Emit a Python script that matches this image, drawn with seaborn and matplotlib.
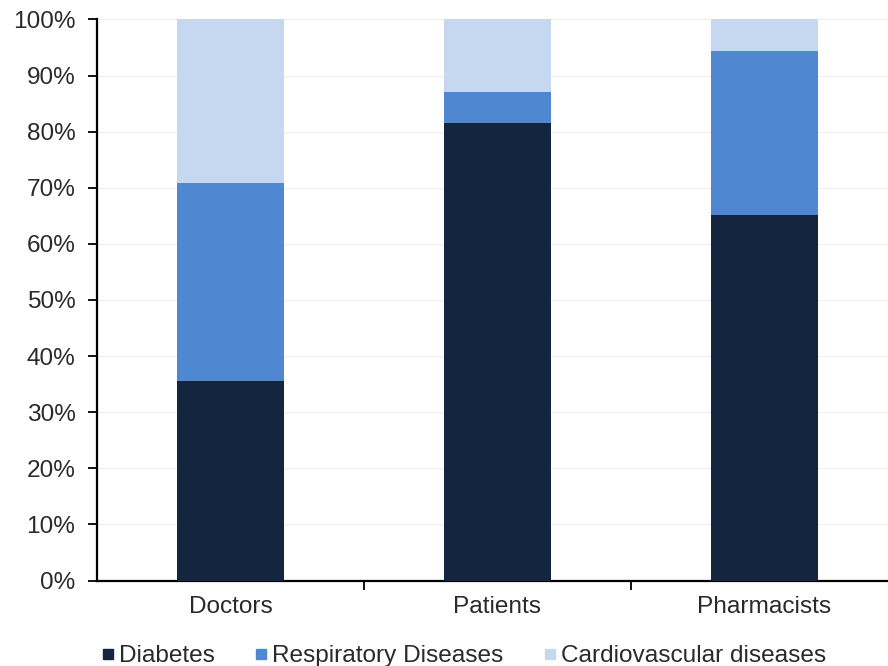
import matplotlib
matplotlib.use("Agg")
import matplotlib.pyplot as plt
import seaborn as sns
import pandas as pd
import numpy as np
from matplotlib.lines import Line2D
from matplotlib.ticker import FixedLocator, PercentFormatter

categories = ["Doctors", "Patients", "Pharmacists"]
diabetes = [35.5, 81.5, 65.2]
respiratory = [35.3, 5.6, 29.1]
cardiovascular = [29.2, 12.9, 5.7]
series_names = ["Diabetes", "Respiratory Diseases", "Cardiovascular diseases"]
colors = ["#13253f", "#4f88d0", "#c6d8ef"]

sns.set_theme(style="white")
plt.rcParams["font.family"] = ["Liberation Sans", "DejaVu Sans"]

d = np.array(diabetes)
r = np.array(respiratory)
c = np.array(cardiovascular)
df = pd.DataFrame({
    "cat": categories,
    "total": d + r + c,
    "dr": d + r,
    "d": d,
})

FS = 17.6
fig = plt.figure(figsize=(8.88, 6.66), dpi=100)
ax = fig.add_axes([97 / 888, (666 - 580.6) / 666, 1 - 97 / 888, (580.6 - 19.4) / 666])

for col, colr in zip(["total", "dr", "d"], colors[::-1]):
    sns.barplot(data=df, x="cat", y=col, color=colr, width=0.4, ax=ax,
                saturation=1, linewidth=0, zorder=3)

ax.set_ylim(0, 100)
ax.set_xlim(-0.5, 2.463)
ax.set_yticks(np.arange(0, 101, 10))
ax.yaxis.set_major_formatter(PercentFormatter(decimals=0))
ax.set_xlabel("")
ax.set_ylabel("")
ax.grid(axis="y", color="#efefef", linewidth=0.8, zorder=0)
ax.set_axisbelow(True)

for s in ["top", "right"]:
    ax.spines[s].set_visible(False)
for s in ["left", "bottom"]:
    ax.spines[s].set_color("#000000")
    ax.spines[s].set_linewidth(1.6)

ax.tick_params(axis="y", which="major", length=6.5, width=1.3, color="#000000",
               labelsize=FS, labelcolor="#2a2a2a", pad=9, left=True, direction="out")
ax.tick_params(axis="x", which="major", length=0, labelsize=FS,
               labelcolor="#2a2a2a", pad=11)
ax.xaxis.set_minor_locator(FixedLocator([0.5, 1.5]))
ax.tick_params(axis="x", which="minor", length=6.5, width=1.3, color="#000000",
               bottom=True, direction="out")

handles = [Line2D([0], [0], marker="s", linestyle="none", markersize=7,
                  markerfacecolor=colr, markeredgecolor=colr) for colr in colors]
fig.legend(handles, series_names, loc="center", bbox_to_anchor=(0.522, 10 / 666),
           ncol=3, frameon=False, fontsize=FS, handlelength=0.5, handletextpad=0.2,
           columnspacing=1.65, labelcolor="#2a2a2a", borderpad=0.1)

fig.savefig("out.png", dpi=100)
